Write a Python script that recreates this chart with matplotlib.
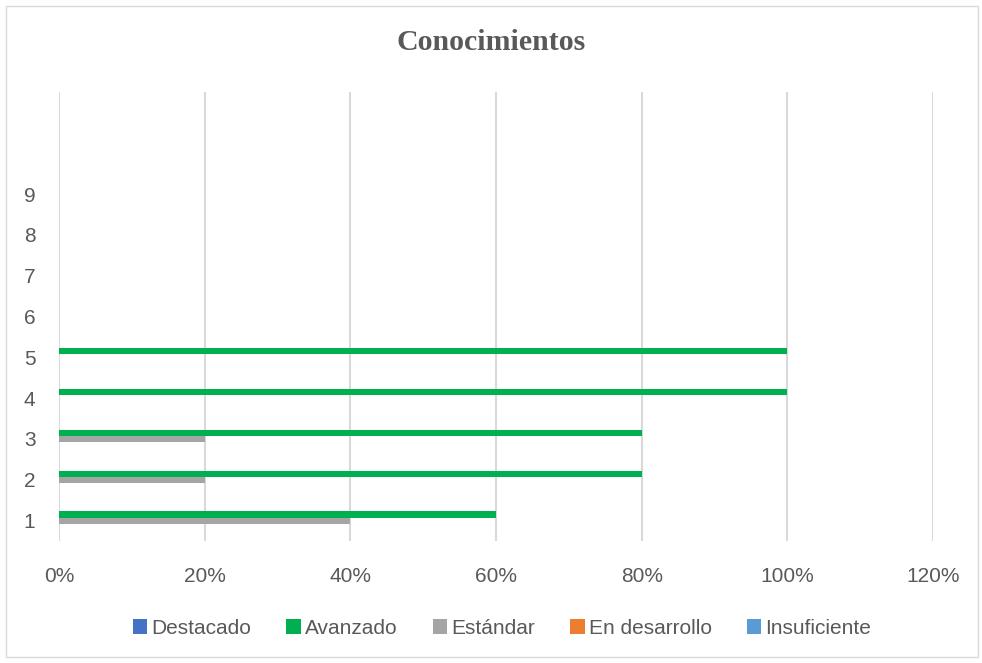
''' Conocimientos: share of students per level, horizontal clustered bars '''

import numpy as np
import matplotlib
matplotlib.use('Agg')
import matplotlib.pyplot as plt
from matplotlib.patches import Rectangle

categories = [1, 2, 3, 4, 5, 6, 7, 8, 9]
series_names = ['Destacado', 'Avanzado', 'Estándar', 'En desarrollo', 'Insuficiente']
destacado = [0, 0, 0, 0, 0, 0, 0, 0, 0]
avanzado = [0.60, 0.80, 0.80, 1.00, 1.00, 0, 0, 0, 0]
estandar = [0.40, 0.20, 0.20, 0, 0, 0, 0, 0, 0]
en_desarrollo = [0, 0, 0, 0, 0, 0, 0, 0, 0]
insuficiente = [0, 0, 0, 0, 0, 0, 0, 0, 0]
colors = ['#4472C4', '#00B050', '#A5A5A5', '#ED7D31', '#5B9BD5']
x_ticks = [0, 0.2, 0.4, 0.6, 0.8, 1.0, 1.2]

plt.rcParams['font.family'] = ['Liberation Sans', 'DejaVu Sans']
text_gray = '#595959'

fig = plt.figure(figsize=(9.82, 6.63), dpi=100)
ax = fig.add_axes([59 / 982, 1 - 541 / 663, (933 - 59) / 982, (541 - 92) / 663])

y = np.array(categories, dtype=float)
bar_h = 0.15
all_series = [destacado, avanzado, estandar, en_desarrollo, insuficiente]
# first series sits on top of each cluster, as in the original
for i, (name, vals, col) in enumerate(zip(series_names, all_series, colors)):
    offset = (2 - i) * bar_h
    ax.barh(y + offset, vals, height=bar_h, color=col, label=name, zorder=3)

ax.set_xlim(0, 1.2)
ax.set_ylim(0.5, 11.5)
ax.set_xticks(x_ticks)
ax.set_xticklabels([f'{int(round(v * 100))}%' for v in x_ticks])
ax.set_yticks(categories)
ax.set_yticklabels([str(c) for c in categories])
ax.tick_params(axis='both', length=0, labelsize=15, colors=text_gray)
ax.tick_params(axis='x', pad=19)
ax.tick_params(axis='y', pad=17)
ax.grid(axis='x', color='#D9D9D9', linewidth=1.5, zorder=0)
for s in ax.spines.values():
    s.set_visible(False)

fig.text(0.5, 1 - 42 / 663, 'Conocimientos', ha='center', va='center',
         fontsize=21.5, fontweight='bold', color=text_gray, family='Liberation Serif')

fig.legend(loc='center', bbox_to_anchor=(502 / 982, 1 - 628 / 663), ncol=5, frameon=False,
           fontsize=15, labelcolor=text_gray, handlelength=0.7, handleheight=0.7,
           handletextpad=0.2, columnspacing=1.68)

fig.patches.append(Rectangle((6 / 982, 6 / 663), 972 / 982, 651 / 663,
                             transform=fig.transFigure, fill=False,
                             edgecolor='#D9D9D9', linewidth=1))

fig.savefig('out.png', dpi=100)
